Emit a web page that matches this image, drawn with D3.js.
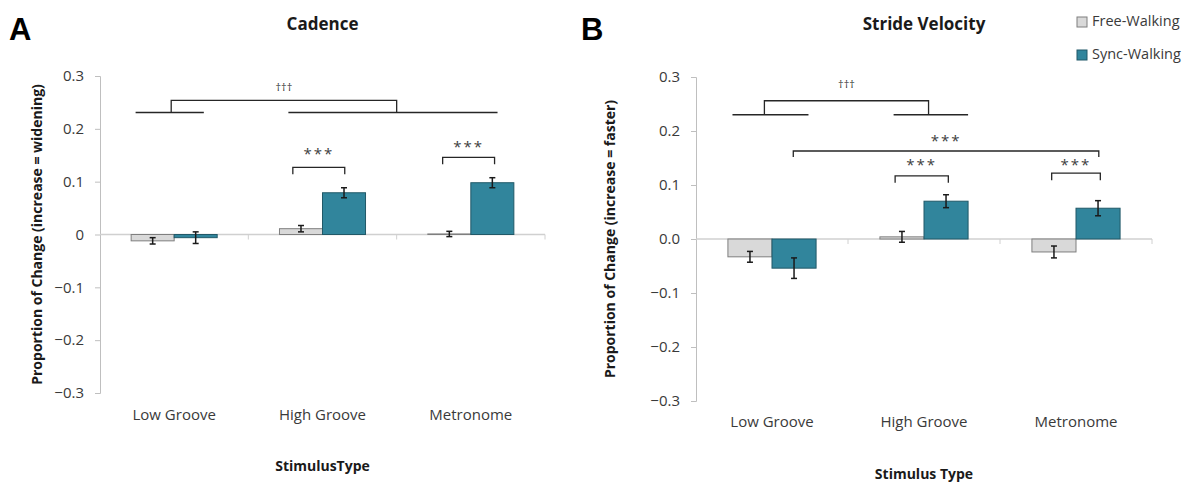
<!DOCTYPE html>
<html>
<head>
<meta charset="utf-8">
<script src="https://cdn.jsdelivr.net/npm/d3@7"></script>
<style>
  body { margin: 0; background: #fff; }
  text { font-family: 'Open Sans', 'DejaVu Sans', sans-serif; }
</style>
</head>
<body>
<div id="chart"></div>
<script>
// categories and series
const categories = ['Low Groove', 'High Groove', 'Metronome'];
const seriesNames = ['Free-Walking', 'Sync-Walking'];
const seriesColors = ['#d9d9d9', '#31859c'];
const seriesStrokes = ['#7f7f7f', '#215968'];

// panel A - cadence
const cadenceFree = [-0.012, 0.011, 0.001];
const cadenceFreeErr = [0.006, 0.006, 0.005];
const cadenceSync = [-0.006, 0.079, 0.098];
const cadenceSyncErr = [0.011, 0.0095, 0.0095];

// panel B - stride velocity
const velocityFree = [-0.033, 0.004, -0.024];
const velocityFreeErr = [0.010, 0.010, 0.011];
const velocitySync = [-0.054, 0.070, 0.057];
const velocitySyncErr = [0.019, 0.012, 0.014];

const yTicks = [-0.3, -0.2, -0.1, 0, 0.1, 0.2, 0.3];

// significance brackets, x in category units (0..3), y in data units
const cadenceBrackets = [
  { x0: 1.30, x1: 1.65, y: 0.127, leg: 0.013, label: '***', ly: 0.150 },
  { x0: 2.31, x1: 2.66, y: 0.146, leg: 0.013, label: '***', ly: 0.163 }
];
const velocityBrackets = [
  { x0: 0.64, x1: 2.65, y: 0.163, leg: 0.011, label: '***', ly: 0.180 },
  { x0: 1.31, x1: 1.66, y: 0.117, leg: 0.013, label: '***', ly: 0.135 },
  { x0: 2.34, x1: 2.66, y: 0.122, leg: 0.013, label: '***', ly: 0.135 }
];
// group comparison (†††): two base lines joined by a raised bar
const cadenceGroup = { left: [0.24, 0.70], right: [1.27, 2.68], joinL: 0.48, joinR: 2.0, base: 0.231, top: 0.254, ly: 0.278 };
const velocityGroup = { left: [0.24, 0.74], right: [1.30, 1.79], joinL: 0.45, joinR: 1.53, base: 0.23, top: 0.256, ly: 0.285 };

const W = 1194, H = 483;
const svg = d3.select('#chart').append('svg').attr('width', W).attr('height', H);

function drawPanel(p) {
  const g = svg.append('g');
  const y = d3.scaleLinear().domain([-0.3, 0.3]).range([p.bottom, p.top]);
  const x = d3.scaleBand().domain(categories).range([p.left, p.right]);
  const xs = d3.scaleBand().domain(seriesNames).range([x.bandwidth() * 0.21, x.bandwidth() * 0.79]);
  const xc = d3.scaleLinear().domain([0, 3]).range([p.left, p.right]);

  // y axis
  const yAxis = g.append('g').attr('transform', `translate(${p.left},0)`)
    .call(d3.axisLeft(y).tickValues(yTicks).tickSize(5).tickPadding(11).tickFormat(p.fmt));
  yAxis.select('.domain').attr('stroke', '#bfbfbf');
  yAxis.selectAll('.tick line').attr('stroke', '#bfbfbf');
  yAxis.selectAll('.tick text').attr('fill', '#3a3a3a').style('font-size', '15px');

  // x axis along zero with ticks at category boundaries
  g.append('line').attr('x1', p.left).attr('x2', p.right)
    .attr('y1', y(0)).attr('y2', y(0)).attr('stroke', '#d0d0d0').attr('stroke-width', 1.5);
  g.selectAll('.xtick').data([1, 2, 3]).enter().append('line')
    .attr('x1', (d) => xc(d)).attr('x2', (d) => xc(d))
    .attr('y1', y(0)).attr('y2', y(0) + 5).attr('stroke', '#d0d0d0');

  // bars
  const rows = categories.map((c, i) => ({
    cat: c,
    vals: [
      { s: 0, v: p.free[i], e: p.freeErr[i] },
      { s: 1, v: p.sync[i], e: p.syncErr[i] }
    ]
  }));
  const groups = g.selectAll('.grp').data(rows).enter().append('g')
    .attr('transform', (d) => `translate(${x(d.cat)},0)`);
  groups.selectAll('rect').data((d) => d.vals).enter().append('rect')
    .attr('x', (d) => xs(seriesNames[d.s]))
    .attr('width', xs.bandwidth())
    .attr('y', (d) => y(Math.max(0, d.v)))
    .attr('height', (d) => Math.abs(y(d.v) - y(0)))
    .attr('fill', (d) => seriesColors[d.s])
    .attr('stroke', (d) => seriesStrokes[d.s])
    .attr('stroke-width', 1);

  // error bars
  const eb = groups.selectAll('.err').data((d) => d.vals).enter().append('g')
    .attr('stroke', '#1a1a1a').attr('stroke-width', 1.5);
  const cx = (d) => xs(seriesNames[d.s]) + xs.bandwidth() / 2;
  eb.append('line').attr('x1', cx).attr('x2', cx)
    .attr('y1', (d) => y(d.v - d.e)).attr('y2', (d) => y(d.v + d.e));
  [1, -1].forEach((k) => {
    eb.append('line').attr('x1', (d) => cx(d) - 3).attr('x2', (d) => cx(d) + 3)
      .attr('y1', (d) => y(d.v + k * d.e)).attr('y2', (d) => y(d.v + k * d.e));
  });

  // category labels
  g.selectAll('.cat').data(categories).enter().append('text')
    .attr('x', (d) => x(d) + x.bandwidth() / 2).attr('y', p.catY)
    .attr('text-anchor', 'middle').attr('dominant-baseline', 'middle')
    .attr('fill', '#3a3a3a').style('font-size', '15px').text((d) => d);

  // brackets
  const br = g.selectAll('.br').data(p.brackets).enter().append('g');
  br.append('path')
    .attr('d', (d) => `M${xc(d.x0)},${y(d.y - d.leg)}V${y(d.y)}H${xc(d.x1)}V${y(d.y - d.leg)}`)
    .attr('fill', 'none').attr('stroke', '#262626').attr('stroke-width', 1.3);
  br.append('text').attr('x', (d) => (xc(d.x0) + xc(d.x1)) / 2).attr('y', (d) => y(d.ly))
    .attr('text-anchor', 'middle').attr('dominant-baseline', 'middle')
    .attr('fill', '#404040').style('font-size', '15px').style('letter-spacing', '2px').text((d) => d.label);

  const gr = p.group;
  const line = (x0, x1, yy) => g.append('line')
    .attr('x1', xc(x0)).attr('x2', xc(x1)).attr('y1', y(yy)).attr('y2', y(yy))
    .attr('stroke', '#262626').attr('stroke-width', 1.5);
  line(gr.left[0], gr.left[1], gr.base);
  line(gr.right[0], gr.right[1], gr.base);
  g.append('path')
    .attr('d', `M${xc(gr.joinL)},${y(gr.base)}V${y(gr.top)}H${xc(gr.joinR)}V${y(gr.base)}`)
    .attr('fill', 'none').attr('stroke', '#262626').attr('stroke-width', 1.3);
  g.append('text').attr('x', (xc(gr.joinL) + xc(gr.joinR)) / 2).attr('y', y(gr.ly))
    .attr('text-anchor', 'middle').attr('dominant-baseline', 'middle')
    .attr('fill', '#333').style('font-size', '11px').text('\u2020\u2020\u2020');

  // titles
  g.append('text').attr('x', (p.left + p.right) / 2).attr('y', 25)
    .attr('text-anchor', 'middle').attr('dominant-baseline', 'middle')
    .style('font-size', '17px').style('font-weight', 'bold').attr('fill', '#1a1a1a').text(p.title);
  g.append('text').attr('x', p.letterX).attr('y', 40)
    .style('font-size', '31px').style('font-weight', 'bold').attr('fill', '#000')
    .style('font-family', 'Arial, "Liberation Sans", sans-serif').text(p.letter);
  g.append('text').attr('x', (p.left + p.right) / 2).attr('y', p.xTitleY)
    .attr('text-anchor', 'middle').attr('dominant-baseline', 'middle')
    .style('font-size', '14px').style('font-weight', 'bold').attr('fill', '#1a1a1a').text(p.xTitle);
  g.append('text')
    .attr('transform', `translate(${p.yTitleX},${(p.top + p.bottom) / 2}) rotate(-90)`)
    .attr('text-anchor', 'middle').attr('dominant-baseline', 'middle')
    .style('font-size', '14px').style('font-weight', 'bold').attr('fill', '#1a1a1a').text(p.yTitle);
}

drawPanel({
  left: 100, right: 545, top: 76, bottom: 393,
  free: cadenceFree, freeErr: cadenceFreeErr, sync: cadenceSync, syncErr: cadenceSyncErr,
  fmt: (d) => (d === 0 ? '0' : d3.format('.1f')(d)),
  brackets: cadenceBrackets, group: cadenceGroup,
  title: 'Cadence', letter: 'A', letterX: 9,
  xTitle: 'StimulusType', xTitleY: 467, catY: 416,
  yTitle: 'Proportion of Change (increase = widening)', yTitleX: 38
});

drawPanel({
  left: 696, right: 1152, top: 77, bottom: 401,
  free: velocityFree, freeErr: velocityFreeErr, sync: velocitySync, syncErr: velocitySyncErr,
  fmt: d3.format('.1f'),
  brackets: velocityBrackets, group: velocityGroup,
  title: 'Stride Velocity', letter: 'B', letterX: 581,
  xTitle: 'Stimulus Type', xTitleY: 475, catY: 423,
  yTitle: 'Proportion of Change (increase = faster)', yTitleX: 611
});

// legend
const legend = svg.append('g').selectAll('g').data(seriesNames).enter().append('g')
  .attr('transform', (d, i) => `translate(1077,${17 + i * 33})`);
legend.append('rect').attr('width', 10).attr('height', 10)
  .attr('fill', (d, i) => seriesColors[i]).attr('stroke', (d, i) => seriesStrokes[i]);
legend.append('text').attr('x', 15).attr('y', 5).attr('dominant-baseline', 'middle')
  .style('font-size', '14.5px').attr('fill', '#3a3a3a').text((d) => d);
</script>
</body>
</html>
